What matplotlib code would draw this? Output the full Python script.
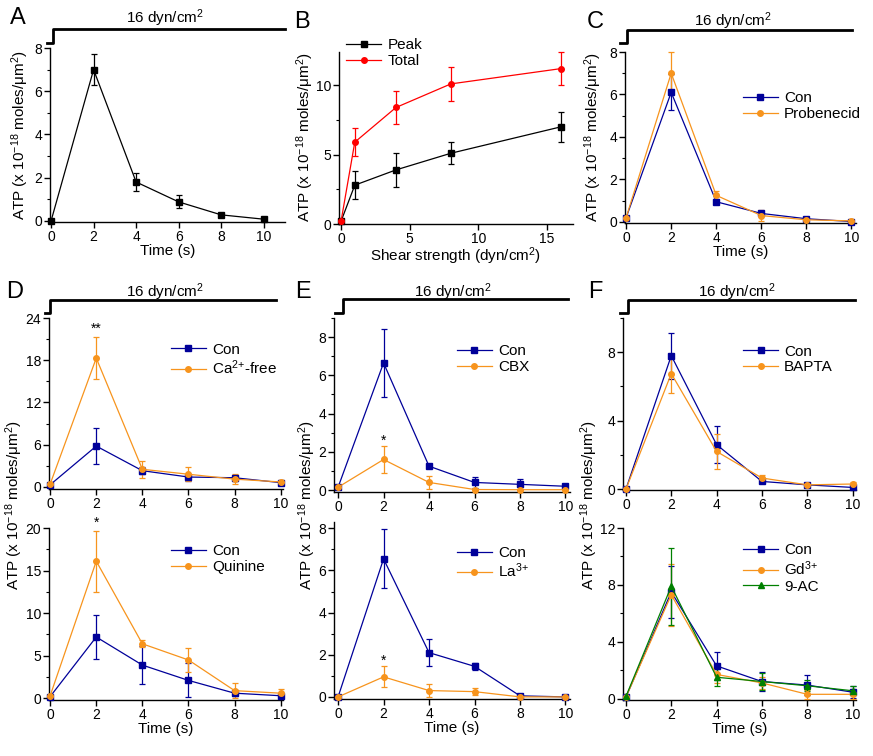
import matplotlib
matplotlib.use("Agg")
import matplotlib.pyplot as plt
from matplotlib.lines import Line2D
from matplotlib.ticker import AutoMinorLocator

plt.rcParams['font.family'] = ['Liberation Sans', 'DejaVu Sans']
plt.rcParams['mathtext.fontset'] = 'custom'
plt.rcParams['mathtext.rm'] = 'Liberation Sans'
plt.rcParams['mathtext.it'] = 'Liberation Sans:italic'
plt.rcParams['mathtext.bf'] = 'Liberation Sans:bold'

# ---------------- data ----------------
time = [0, 2, 4, 6, 8, 10]

A_mean = [0.0, 7.0, 1.8, 0.88, 0.28, 0.08]
A_err = [0.0, 0.7, 0.4, 0.3, 0.05, 0.05]

shear = [0, 1, 4, 8, 16]
B_peak = [0.2, 2.8, 3.9, 5.1, 7.0]
B_peak_err = [0.1, 1.0, 1.2, 0.8, 1.1]
B_total = [0.2, 5.9, 8.4, 10.1, 11.2]
B_total_err = [0.1, 1.0, 1.2, 1.2, 1.2]

C_con = [0.2, 6.1, 0.95, 0.4, 0.15, 0.02]
C_con_err = [0.05, 0.85, 0.12, 0.1, 0.05, 0.02]
C_prob = [0.2, 7.0, 1.25, 0.3, 0.1, 0.05]
C_prob_err = [0.05, 1.0, 0.2, 0.25, 0.05, 0.03]

D1_con = [0.3, 5.8, 2.3, 1.4, 1.3, 0.6]
D1_con_err = [0.1, 2.5, 0.5, 0.5, 0.4, 0.3]
D1_ca = [0.4, 18.3, 2.5, 1.8, 1.1, 0.7]
D1_ca_err = [0.1, 3.0, 1.2, 1.0, 0.7, 0.3]

D2_con = [0.2, 7.2, 3.9, 2.1, 0.6, 0.3]
D2_con_err = [0.1, 2.6, 2.2, 2.0, 0.3, 0.3]
D2_qui = [0.3, 16.1, 6.4, 4.5, 0.9, 0.6]
D2_qui_err = [0.1, 3.6, 0.4, 1.4, 0.9, 0.5]

E1_con = [0.15, 6.65, 1.25, 0.4, 0.3, 0.2]
E1_con_err = [0.05, 1.8, 0.05, 0.3, 0.3, 0.1]
E1_cbx = [0.15, 1.6, 0.4, 0.03, 0.02, 0.02]
E1_cbx_err = [0.05, 0.7, 0.35, 0.05, 0.02, 0.02]

E2_con = [0.0, 6.55, 2.1, 1.45, 0.05, 0.0]
E2_con_err = [0.02, 1.4, 0.65, 0.15, 0.05, 0.02]
E2_la = [0.0, 0.95, 0.3, 0.25, 0.0, 0.0]
E2_la_err = [0.02, 0.5, 0.3, 0.15, 0.02, 0.02]

F1_con = [0.0, 7.8, 2.6, 0.45, 0.25, 0.1]
F1_con_err = [0.02, 1.35, 1.1, 0.1, 0.05, 0.05]
F1_bapta = [0.0, 6.75, 2.2, 0.65, 0.25, 0.3]
F1_bapta_err = [0.02, 1.15, 1.0, 0.15, 0.05, 0.1]

F2_con = [0.1, 7.5, 2.3, 1.2, 0.95, 0.45]
F2_con_err = [0.05, 1.8, 1.0, 0.7, 0.7, 0.4]
F2_gd = [0.1, 7.3, 1.7, 1.1, 0.3, 0.3]
F2_gd_err = [0.05, 2.2, 0.6, 0.4, 0.3, 0.35]
F2_ac = [0.15, 7.9, 1.5, 1.2, 0.9, 0.55]
F2_ac_err = [0.05, 2.7, 0.6, 0.6, 0.4, 0.3]

# ---------------- styling ----------------
NAVY = '#000099'
ORANGE = '#F7941D'
RED = '#FF0000'
GREEN = '#008000'
BLACK = '#000000'

W, H = 873, 756
fig = plt.figure(figsize=(W / 100, H / 100), dpi=100)

YLABEL = 'ATP (x 10$^{-18}$ moles/μm$^{2}$)'
TICK_FS = 10
LAB_FS = 11
LEG_FS = 11


def px_axes(left, top, right, bottom):
    ax = fig.add_axes([left / W, 1 - bottom / H, (right - left) / W, (bottom - top) / H])
    ax.spines['top'].set_visible(False)
    ax.spines['right'].set_visible(False)
    for s in ('left', 'bottom'):
        ax.spines[s].set_linewidth(1.0)
    ax.tick_params(direction='out', length=4, width=1.0, labelsize=TICK_FS, pad=1.5)
    ax.tick_params(which='minor', direction='out', length=2.5, width=0.8)
    ax.yaxis.set_minor_locator(AutoMinorLocator(2))
    return ax


def series(ax, x, y, e, color, marker, label=None, ms=4):
    ax.errorbar(x, y, yerr=e, fmt='none', ecolor=color, elinewidth=0.9,
                capsize=2.5, capthick=0.9, clip_on=False, zorder=3)
    ax.plot(x, y, '-', marker=marker, color=color, ms=ms, lw=0.9, label=label,
            clip_on=False, zorder=4)


def step(y_low, y_high, x0, xs, xe, tx, ty):
    xs_f = [x0 / W, xs / W, xs / W, xe / W]
    ys_f = [1 - y_low / H, 1 - y_low / H, 1 - y_high / H, 1 - y_high / H]
    fig.add_artist(Line2D(xs_f, ys_f, color='black', lw=2.0, transform=fig.transFigure))
    fig.text(tx / W, 1 - ty / H, '16 dyn/cm$^{2}$', ha='center', va='center', fontsize=LAB_FS)


def letter(s, x, y):
    fig.text(x / W, 1 - y / H, s, ha='center', va='center', fontsize=17)


def legend(ax, x, y):
    ax.legend(loc='upper left', bbox_to_anchor=(x, y), frameon=False, fontsize=LEG_FS,
              borderpad=0, borderaxespad=0, handlelength=2.3, handletextpad=0.4,
              labelspacing=0.12)


def time_axis(ax, xlim, show_label=True):
    ax.set_xlim(*xlim)
    ax.set_xticks(time)
    if show_label:
        ax.set_xlabel('Time (s)', fontsize=LAB_FS, labelpad=0)


def side_label(x, y):
    fig.text(x / W, 1 - y / H, YLABEL, rotation=90, ha='center', va='center', fontsize=LAB_FS)


# ---------------- panel A ----------------
axA = px_axes(50, 48, 285, 222)
series(axA, time, A_mean, A_err, BLACK, 's')
time_axis(axA, (-0.05, 11.0))
axA.set_ylim(-0.05, 8)
axA.set_yticks([0, 2, 4, 6, 8])
side_label(20, 135)
step(43, 29, 47, 53, 285, 165, 18)
letter('A', 18, 18)

# ---------------- panel B ----------------
axB = px_axes(339, 52, 573, 224)
series(axB, shear, B_peak, B_peak_err, BLACK, 's', 'Peak')
series(axB, shear, B_total, B_total_err, RED, 'o', 'Total')
axB.set_xlim(-0.15, 16.9)
axB.set_xticks([0, 5, 10, 15])
axB.set_ylim(0, 12.4)
axB.set_yticks([0, 5, 10])
axB.set_xlabel('Shear strength (dyn/cm$^{2}$)', fontsize=LAB_FS, labelpad=0)
side_label(305, 137)
legend(axB, 0.03, 1.08)
letter('B', 302, 22)

# ---------------- panel C ----------------
axC = px_axes(625, 52, 856, 223)
series(axC, time, C_con, C_con_err, NAVY, 's', 'Con')
series(axC, time, C_prob, C_prob_err, ORANGE, 'o', 'Probenecid')
time_axis(axC, (-0.05, 10.2))
axC.set_ylim(-0.05, 8)
axC.set_yticks([0, 2, 4, 6, 8])
side_label(593, 137)
legend(axC, 0.51, 0.77)
step(43, 30, 620, 627, 852, 733, 21)
letter('C', 595, 22)

# ---------------- panel D ----------------
axD1 = px_axes(49, 318, 283, 489)
series(axD1, time, D1_con, D1_con_err, NAVY, 's', 'Con')
series(axD1, time, D1_ca, D1_ca_err, ORANGE, 'o', 'Ca$^{2{+}}$-free')
time_axis(axD1, (-0.05, 10.1), show_label=False)
axD1.set_ylim(-0.3, 24)
axD1.set_yticks([0, 6, 12, 18, 24])
axD1.text(2, 22.4, '**', ha='center', va='center', fontsize=10)
legend(axD1, 0.52, 0.855)

axD2 = px_axes(49, 528, 283, 700)
series(axD2, time, D2_con, D2_con_err, NAVY, 's', 'Con')
series(axD2, time, D2_qui, D2_qui_err, ORANGE, 'o', 'Quinine')
time_axis(axD2, (-0.05, 10.1))
axD2.set_ylim(-0.2, 20)
axD2.set_yticks([0, 5, 10, 15, 20])
axD2.text(2, 20.6, '*', ha='center', va='center', fontsize=10)
legend(axD2, 0.52, 0.905)
side_label(14, 505)
step(313, 300, 45, 50, 276, 165, 292)
letter('D', 15, 292)

# ---------------- panel E ----------------
axE1 = px_axes(334, 318, 570, 492)
series(axE1, time, E1_con, E1_con_err, NAVY, 's', 'Con')
series(axE1, time, E1_cbx, E1_cbx_err, ORANGE, 'o', 'CBX')
time_axis(axE1, (-0.18, 10.2), show_label=False)
axE1.set_ylim(-0.1, 9)
axE1.set_yticks([0, 2, 4, 6, 8])
axE1.text(2, 2.6, '*', ha='center', va='center', fontsize=10)
legend(axE1, 0.52, 0.85)

axE2 = px_axes(334, 522, 570, 699)
series(axE2, time, E2_con, E2_con_err, NAVY, 's', 'Con')
series(axE2, time, E2_la, E2_la_err, ORANGE, 'o', 'La$^{3{+}}$')
time_axis(axE2, (-0.18, 10.2))
axE2.set_ylim(-0.1, 8.3)
axE2.set_yticks([0, 2, 4, 6, 8])
axE2.text(2, 1.7, '*', ha='center', va='center', fontsize=10)
legend(axE2, 0.52, 0.865)
side_label(307, 505)
step(313, 299, 335, 343, 568, 453, 292)
letter('E', 303, 292)

# ---------------- panel F ----------------
axF1 = px_axes(623, 318, 856, 490)
series(axF1, time, F1_con, F1_con_err, NAVY, 's', 'Con')
series(axF1, time, F1_bapta, F1_bapta_err, ORANGE, 'o', 'BAPTA')
time_axis(axF1, (-0.13, 10.15), show_label=False)
axF1.set_ylim(-0.05, 10)
axF1.set_yticks([0, 4, 8])
legend(axF1, 0.515, 0.845)

axF2 = px_axes(623, 528, 856, 700)
series(axF2, time, F2_con, F2_con_err, NAVY, 's', 'Con')
series(axF2, time, F2_gd, F2_gd_err, ORANGE, 'o', 'Gd$^{3{+}}$')
series(axF2, time, F2_ac, F2_ac_err, GREEN, '^', '9-AC')
time_axis(axF2, (-0.13, 10.15))
axF2.set_ylim(-0.1, 12)
axF2.set_yticks([0, 4, 8, 12])
legend(axF2, 0.515, 0.91)
side_label(589, 505)
step(313, 300, 620, 628, 855, 737, 292)
letter('F', 595, 292)

fig.savefig('out.png', dpi=100)
